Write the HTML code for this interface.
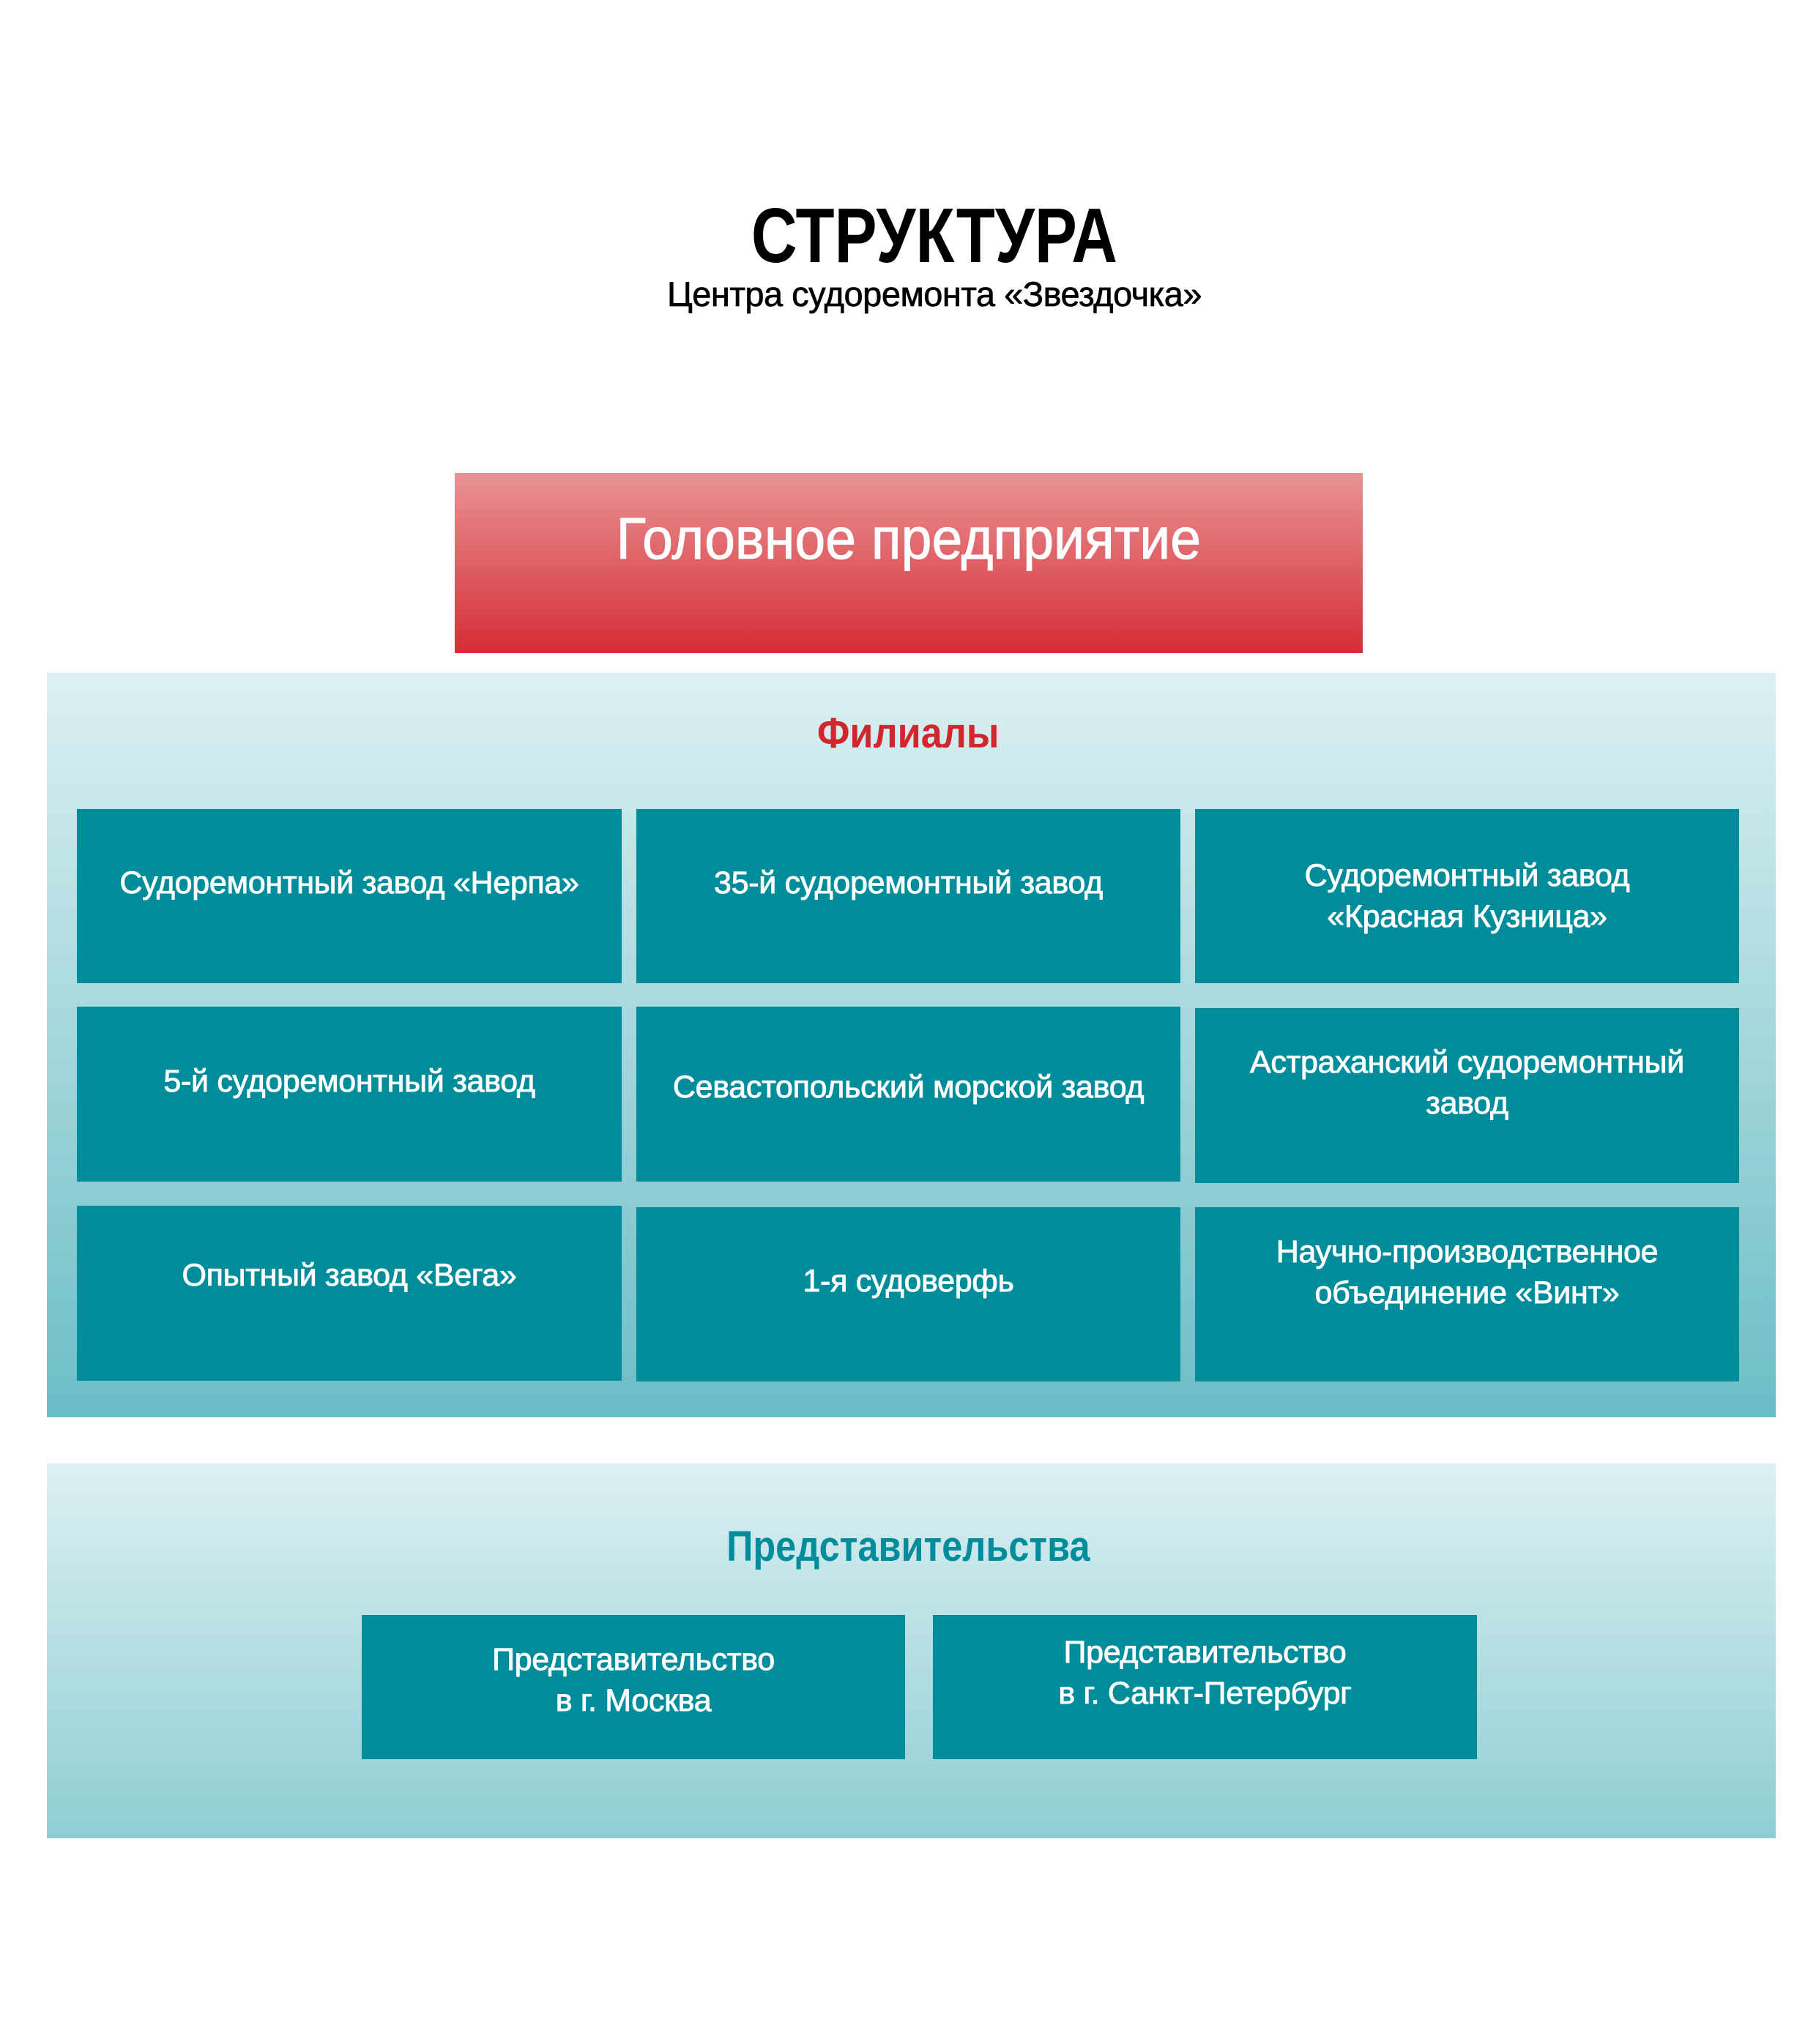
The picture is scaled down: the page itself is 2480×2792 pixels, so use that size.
<!DOCTYPE html>
<html><head><meta charset="utf-8"><style>
*{margin:0;padding:0;box-sizing:border-box}
body{width:2480px;height:2792px;background:#fff;position:relative;font-family:"Liberation Sans","DejaVu Sans",sans-serif;overflow:hidden}
.a{position:absolute}
.t{width:100%;text-align:center}
.s{display:inline-block}
.box{position:absolute;background:#008d9b;color:#fff;display:flex;align-items:center;justify-content:center;text-align:center;font-size:43px;line-height:56px;padding-bottom:36px;-webkit-text-stroke:0.9px #fff;letter-spacing:-0.3px}
</style></head><body>
<div class="a t" style="top:262px;font-size:106px;font-weight:bold;left:36px;color:#000"><span class="s" style="transform:scaleX(0.82)">СТРУКТУРА</span></div>
<div class="a t" style="top:374px;font-size:47px;left:36px;color:#000;-webkit-text-stroke:0.7px #000;letter-spacing:-0.5px">Центра судоремонта «Звездочка»</div>

<div class="a" style="left:621px;top:646px;width:1240px;height:246px;background:linear-gradient(#e89395,#d62d36);color:#fff;font-size:80px;text-align:center;padding-top:44px;-webkit-text-stroke:1px #fff"><span class="s" style="transform:scaleX(0.94)">Головное предприятие</span></div>

<div class="a" style="left:64px;top:919px;width:2361px;height:1017px;background:linear-gradient(#dcf0f2,#6bbdc6)"></div>
<div class="a t" style="top:968px;font-size:58px;color:#d0272f;font-weight:bold"><span class="s" style="transform:scaleX(0.9)">Филиалы</span></div>

<div class="box" style="left:105px;top:1105px;width:744px;height:238px">Судоремонтный завод «Нерпа»</div>
<div class="box" style="left:869px;top:1105px;width:743px;height:238px">35-й судоремонтный завод</div>
<div class="box" style="left:1632px;top:1105px;width:743px;height:238px;padding-bottom:0">Судоремонтный завод<br>«Красная Кузница»</div>

<div class="box" style="left:105px;top:1375px;width:744px;height:239px">5-й судоремонтный завод</div>
<div class="box" style="left:869px;top:1375px;width:743px;height:239px;padding-bottom:20px">Севастопольский морской завод</div>
<div class="box" style="left:1632px;top:1377px;width:743px;height:239px">Астраханский судоремонтный<br>завод</div>

<div class="box" style="left:105px;top:1647px;width:744px;height:239px;padding-bottom:50px">Опытный завод «Вега»</div>
<div class="box" style="left:869px;top:1649px;width:743px;height:238px;padding-bottom:36px">1-я судоверфь</div>
<div class="box" style="left:1632px;top:1649px;width:743px;height:238px;padding-bottom:60px">Научно-производственное<br>объединение «Винт»</div>

<div class="a" style="left:64px;top:1999px;width:2361px;height:512px;background:linear-gradient(#dcf0f2,#8ecdd4)"></div>
<div class="a t" style="top:2079px;font-size:58px;color:#008c9a;font-weight:bold"><span class="s" style="transform:scaleX(0.87)">Представительства</span></div>
<div class="box" style="left:494px;top:2206px;width:742px;height:197px;padding-bottom:20px">Представительство<br>в г. Москва</div>
<div class="box" style="left:1274px;top:2206px;width:743px;height:197px;padding-bottom:40px">Представительство<br>в г. Санкт-Петербург</div>
</body></html>
